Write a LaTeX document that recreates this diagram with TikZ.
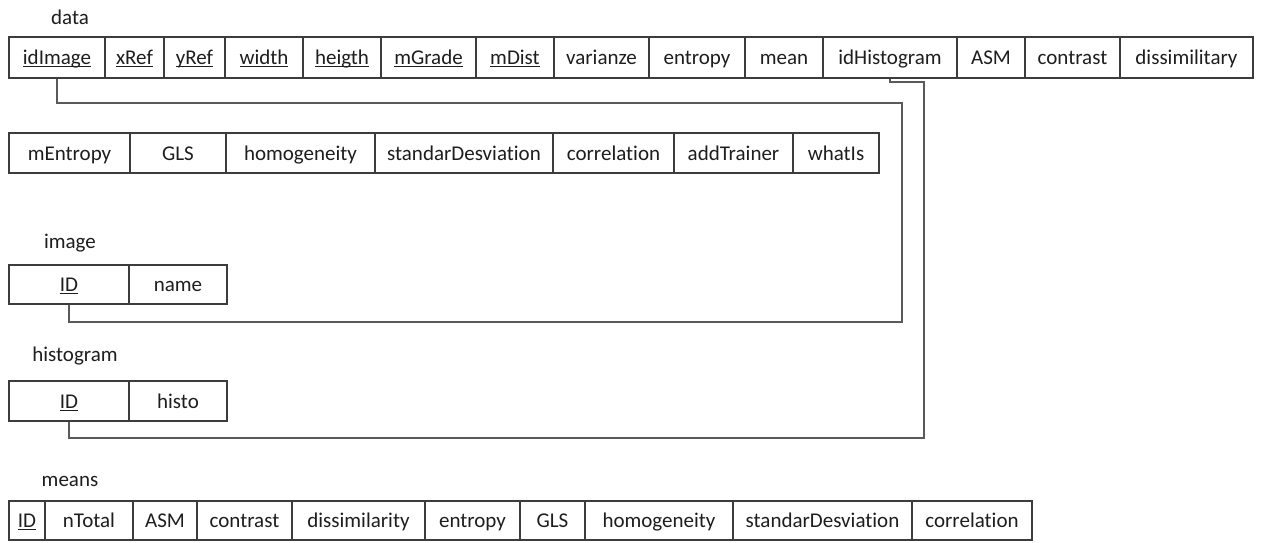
\documentclass[tikz,border=0pt]{standalone}
\usepackage{fontspec}
\setmainfont{Carlito}[Ligatures=NoCommon]
\newcommand{\myul}[1]{{\setbox0\hbox{#1}\rlap{\rule[-2.6pt]{\wd0}{0.9pt}}\box0}}
\begin{document}
\begin{tikzpicture}[x=1pt,y=-1pt,
  cell/.style={draw=boxline, line width=1.3pt, inner sep=0pt, text=txt, text height=14.5pt, text depth=0pt, font=\fontsize{21}{24}\selectfont},
  lbl/.style={inner sep=0pt, text=txt, font=\fontsize{21}{24}\selectfont},
  conn/.style={draw=connline, line width=1.6pt}]
\definecolor{boxline}{HTML}{3C3C3C}
\definecolor{connline}{HTML}{5A5A5A}
\definecolor{txt}{HTML}{1E1E1E}
\useasboundingbox (0,0) rectangle (1262,542);
\fill[white] (0,0) rectangle (1262,542);
\newcommand{\mycell}[6]{%
  \node[cell, minimum width={#3-#2}, minimum height={#5-#4}] (#1) at ({(#2+#3)/2},{(#4+#5)/2}) {#6};}
% data row 1
\node[lbl] (ldata) at (70,17) {data};
\mycell{d1}{9}{105}{37}{78}{\myul{idImage}}
\mycell{d2}{105}{164}{37}{78}{\myul{xRef}}
\mycell{d3}{164}{225}{37}{78}{\myul{yRef}}
\mycell{d4}{225}{303}{37}{78}{\myul{width}}
\mycell{d5}{303}{381}{37}{78}{\myul{heigth}}
\mycell{d6}{381}{476}{37}{78}{\myul{mGrade}}
\mycell{d7}{476}{554}{37}{78}{\myul{mDist}}
\mycell{d8}{554}{649}{37}{78}{varianze}
\mycell{d9}{649}{745}{37}{78}{entropy}
\mycell{d10}{745}{823}{37}{78}{mean}
\mycell{d11}{823}{957}{37}{78}{idHistogram}
\mycell{d12}{957}{1025}{37}{78}{ASM}
\mycell{d13}{1025}{1120}{37}{78}{contrast}
\mycell{d14}{1120}{1253}{37}{78}{dissimilitary}
% data row 2
\mycell{e1}{9}{130}{133}{173}{mEntropy}
\mycell{e2}{130}{226}{133}{173}{GLS}
\mycell{e3}{226}{375}{133}{173}{homogeneity}
\mycell{e4}{375}{553}{133}{173}{standarDesviation}
\mycell{e5}{553}{674}{133}{173}{correlation}
\mycell{e6}{674}{793}{133}{173}{addTrainer}
\mycell{e7}{793}{879}{133}{173}{whatIs}
% image
\node[lbl] (limage) at (70,243) {image};
\mycell{i1}{9}{129}{265}{304}{\myul{ID}}
\mycell{i2}{129}{227}{265}{304}{name}
% histogram
\node[lbl] (lhisto) at (75,356) {histogram};
\mycell{h1}{9}{129}{381}{421}{\myul{ID}}
\mycell{h2}{129}{227}{381}{421}{histo}
% means
\node[lbl] (lmeans) at (70,481) {means};
\mycell{m1}{9}{45}{501}{540}{\myul{ID}}
\mycell{m2}{45}{133}{501}{540}{nTotal}
\mycell{m3}{133}{197}{501}{540}{ASM}
\mycell{m4}{197}{292}{501}{540}{contrast}
\mycell{m5}{292}{425}{501}{540}{dissimilarity}
\mycell{m6}{425}{520}{501}{540}{entropy}
\mycell{m7}{520}{585}{501}{540}{GLS}
\mycell{m8}{585}{733}{501}{540}{homogeneity}
\mycell{m9}{733}{912}{501}{540}{standarDesviation}
\mycell{m10}{912}{1032}{501}{540}{correlation}
% connectors
\coordinate (a1) at (902,103);
\coordinate (a2) at (902,322);
\coordinate (b1) at (924,82);
\coordinate (b2) at (924,438);
\draw[conn] (d1.south) |- (a1) -- (a2) -| (i1.south);
\draw[conn] (d11.south) |- (b1) -- (b2) -| (h1.south);
\end{tikzpicture}
\end{document}
